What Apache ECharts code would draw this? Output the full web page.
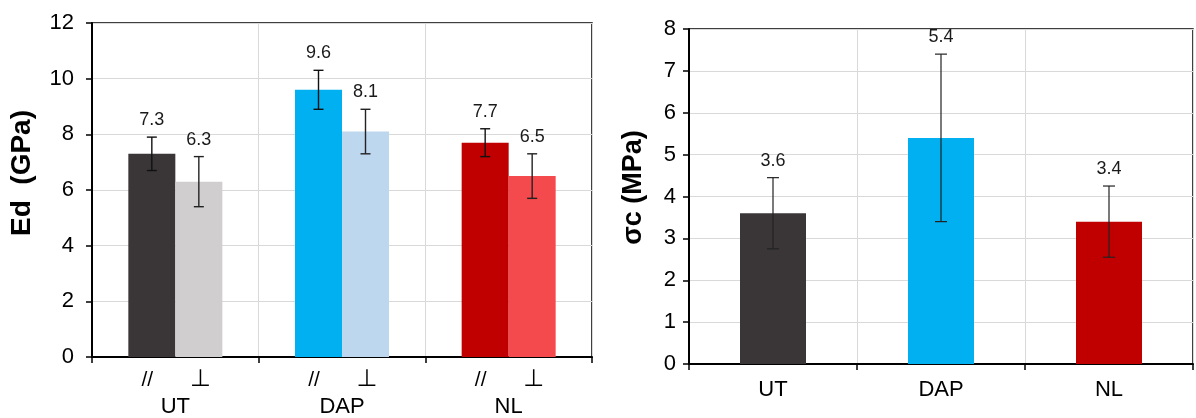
<!DOCTYPE html>
<html>
<head>
<meta charset="utf-8">
<script src="https://cdn.jsdelivr.net/npm/echarts@6/dist/echarts.min.js"></script>
<style>
  html, body { margin: 0; padding: 0; background: #fff; }
  #chart { width: 1196px; height: 418px; }
</style>
</head>
<body>
<div id="chart"></div>
<script>
// ---- data ----
const categories = ['UT', 'DAP', 'NL'];
const edParallel = [7.3, 9.6, 7.7];
const edParallelErr = [0.6, 0.7, 0.5];
const edPerp = [6.3, 8.1, 6.5];
const edPerpErr = [0.9, 0.8, 0.8];
const sigmaC = [3.6, 5.4, 3.4];
const sigmaCErr = [0.85, 2.0, 0.85];
const edTicks = { min: 0, max: 12, interval: 2 };
const scTicks = { min: 0, max: 8, interval: 1 };
const orientLabels = ['//', '⊥'];

// ---- styles ----
const parallelColors = ['#3a3637', '#00b0f0', '#c00000'];
const perpColors = ['#d0cece', '#bdd7ee', '#f54a4d'];
const sigmaColors = ['#3a3637', '#00b0f0', '#c00000'];
const FONT = '"Liberation Sans", Arial, sans-serif';
const ED_BAR_W = 47;
const SC_BAR_W = 66;

function errRender(offset, capW, color, lw) {
  return function (params, api) {
    const cat = api.value(0), v = api.value(1), e = api.value(2);
    const x = api.coord([cat, v])[0] + offset;
    const yTop = api.coord([cat, v + e])[1];
    const yBot = api.coord([cat, v - e])[1];
    return {
      type: 'group',
      children: [
        { type: 'line', shape: { x1: x, y1: yTop, x2: x, y2: yBot }, style: { stroke: color, lineWidth: lw } },
        { type: 'line', shape: { x1: x - capW / 2, y1: yTop, x2: x + capW / 2, y2: yTop }, style: { stroke: color, lineWidth: lw } },
        { type: 'line', shape: { x1: x - capW / 2, y1: yBot, x2: x + capW / 2, y2: yBot }, style: { stroke: color, lineWidth: lw } },
        { type: 'text', x: x, y: yTop - 17, style: { text: v.toFixed(1), align: 'center', verticalAlign: 'middle', fontSize: 18, fontFamily: FONT, fill: '#1a1a1a' } }
      ]
    };
  };
}

const errData = (vals, errs) => vals.map((v, i) => [i, v, errs[i]]);

const axisCommonY = {
  type: 'value',
  nameLocation: 'middle',
  axisLine: { show: true, lineStyle: { color: '#000', width: 2 } },
  axisTick: { show: true, length: 6, lineStyle: { color: '#000', width: 1.5 } },
  axisLabel: { color: '#000', fontSize: 22, fontFamily: FONT },
  splitLine: { show: true, lineStyle: { color: '#d9d9d9', width: 1 } }
};
const axisCommonX = {
  type: 'category',
  data: categories,
  axisLine: { show: true, lineStyle: { color: '#000', width: 2 } },
  axisTick: { show: true, length: 6, lineStyle: { color: '#000', width: 1.5 } },
  splitLine: { show: true, lineStyle: { color: '#d9d9d9', width: 1 } }
};

const option = {
  backgroundColor: '#fff',
  animation: false,
  grid: [
    { left: 92, top: 23, width: 500, height: 337, show: true, borderColor: '#000', borderWidth: 1.5, backgroundColor: 'transparent' },
    { left: 689, top: 29, width: 504, height: 335, show: true, borderColor: '#000', borderWidth: 1.5, backgroundColor: 'transparent' }
  ],
  xAxis: [
    Object.assign({}, axisCommonX, {
      gridIndex: 0,
      axisLabel: {
        interval: 0, margin: 10, color: '#000', fontFamily: FONT,
        formatter: v => '{a|' + orientLabels[0] + '}{b|' + orientLabels[1] + '}\n{c|' + v + '}',
        rich: {
          a: { width: 50, align: 'center', fontSize: 21, fontFamily: FONT, color: '#000', lineHeight: 26 },
          b: { width: 56, align: 'center', fontSize: 24, fontFamily: '"DejaVu Sans", sans-serif', color: '#000', lineHeight: 26 },
          c: { fontSize: 22, fontFamily: FONT, color: '#000', lineHeight: 28 }
        }
      }
    }),
    Object.assign({}, axisCommonX, {
      gridIndex: 1,
      axisLabel: { interval: 0, margin: 15, color: '#000', fontSize: 22, fontFamily: FONT }
    })
  ],
  yAxis: [
    Object.assign({}, axisCommonY, {
      gridIndex: 0, min: edTicks.min, max: edTicks.max, interval: edTicks.interval,
      name: 'Ed  (GPa)', nameGap: 56,
      nameTextStyle: { fontSize: 28, fontWeight: 'bold', color: '#000', fontFamily: FONT, padding: [0, 0, 0, 34] },
      axisLabel: Object.assign({}, axisCommonY.axisLabel, { margin: 18 })
    }),
    Object.assign({}, axisCommonY, {
      gridIndex: 1, min: scTicks.min, max: scTicks.max, interval: scTicks.interval,
      name: 'σc (MPa)', nameGap: 42,
      nameTextStyle: { fontSize: 27, fontWeight: 'bold', color: '#000', fontFamily: FONT, padding: [0, 0, 0, 18] },
      axisLabel: Object.assign({}, axisCommonY.axisLabel, { margin: 13 })
    })
  ],
  series: [
    {
      type: 'bar', name: '//', xAxisIndex: 0, yAxisIndex: 0, barWidth: ED_BAR_W, barGap: '0%',
      data: edParallel.map((v, i) => ({ value: v, itemStyle: { color: parallelColors[i] } }))
    },
    {
      type: 'bar', name: '⊥', xAxisIndex: 0, yAxisIndex: 0, barWidth: ED_BAR_W, barGap: '0%',
      data: edPerp.map((v, i) => ({ value: v, itemStyle: { color: perpColors[i] } }))
    },
    {
      type: 'custom', xAxisIndex: 0, yAxisIndex: 0, z: 5,
      renderItem: errRender(-ED_BAR_W / 2, 10, '#111', 1.4),
      data: errData(edParallel, edParallelErr)
    },
    {
      type: 'custom', xAxisIndex: 0, yAxisIndex: 0, z: 5,
      renderItem: errRender(ED_BAR_W / 2, 10, '#222', 1.4),
      data: errData(edPerp, edPerpErr)
    },
    {
      type: 'bar', name: 'σc', xAxisIndex: 1, yAxisIndex: 1, barWidth: SC_BAR_W,
      data: sigmaC.map((v, i) => ({ value: v, itemStyle: { color: sigmaColors[i] } }))
    },
    {
      type: 'custom', xAxisIndex: 1, yAxisIndex: 1, z: 5,
      renderItem: errRender(0, 12, '#222', 1.2),
      data: errData(sigmaC, sigmaCErr)
    }
  ]
};

const chart = echarts.init(document.getElementById('chart'), null, { renderer: 'canvas' });
chart.setOption(option);
</script>
</body>
</html>
